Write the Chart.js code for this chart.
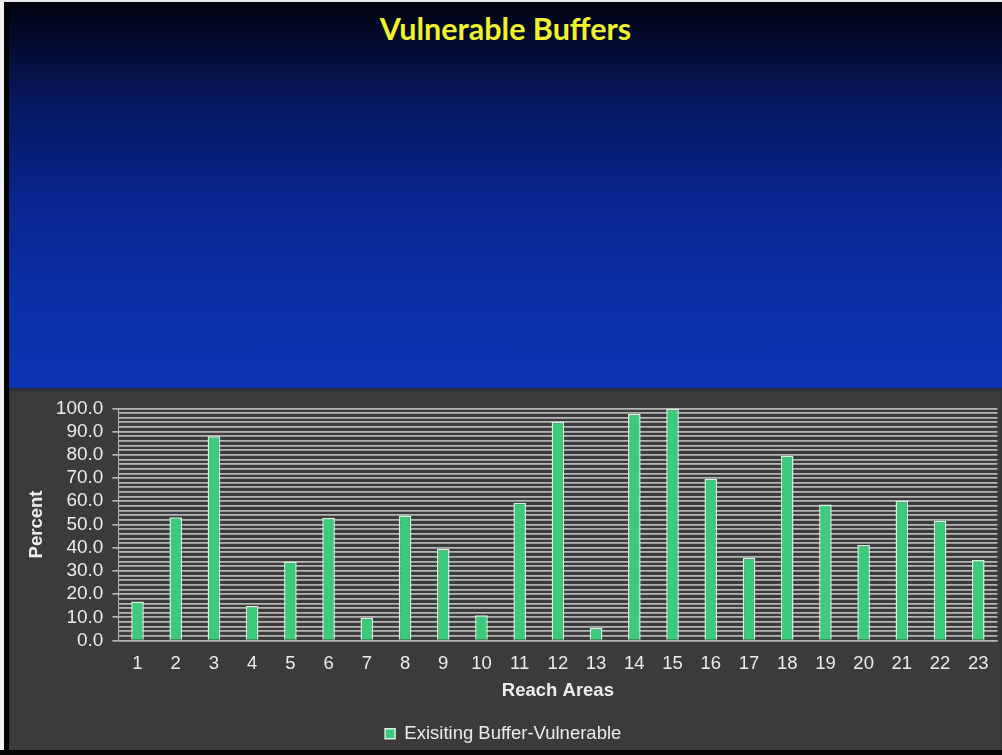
<!DOCTYPE html>
<html>
<head>
<meta charset="utf-8">
<script src="https://cdn.jsdelivr.net/npm/chart.js@4/dist/chart.umd.min.js"></script>
<style>
  html, body { margin: 0; padding: 0; }
  body { width: 1002px; height: 755px; background: #000; position: relative; overflow: hidden; }
  .edge-left { position: absolute; left: 0; top: 0; width: 4px; height: 755px; background: #f2f2f2; }
  .edge-top { position: absolute; left: 0; top: 0; width: 1002px; height: 2px; background: #e8e8e8; }
  .sky {
    position: absolute; left: 9px; top: 2px; width: 993px; height: 386px;
    background: linear-gradient(to bottom, #01030f 0%, #030a2c 9%, #061860 26%, #09248c 50%, #0b2fa6 75%, #0b35b4 100%);
  }
  .sky h1 {
    margin: 0; position: absolute; left: 0; right: 0; top: 8px;
    text-align: center; font: 700 30.5px Lato, "Open Sans", sans-serif;
    color: #f0f22c;
  }
  .panel {
    position: absolute; left: 9px; top: 388px; width: 993px; height: 367px;
    background: #3b3b3b;
    box-shadow: inset 0 3px 3px -1px #2a2636;
  }
  .panel canvas { display: block; }
  .edge-bottom { position: absolute; left: 0; top: 750px; width: 1002px; height: 5px; background: #050505; }
</style>
</head>
<body>
<div class="edge-left"></div>
<div class="edge-top"></div>
<div class="sky"><h1>Vulnerable Buffers</h1></div>
<div class="panel"><canvas id="chart" width="993" height="367"></canvas></div>
<div class="edge-bottom"></div>
<script>
// Reach areas 1..23 and the share of existing buffer that is vulnerable (%)
const reachAreas = ['1','2','3','4','5','6','7','8','9','10','11','12','13','14','15','16','17','18','19','20','21','22','23'];
const vulnerablePercent = [16.8, 53.1, 88.0, 15.0, 33.9, 52.9, 9.8, 53.9, 39.4, 10.9, 59.3, 94.2, 5.4, 97.6, 99.8, 69.6, 35.7, 79.6, 58.6, 41.1, 60.2, 51.6, 34.7];
const seriesName = 'Exisiting Buffer-Vulnerable';
const percentTicks = [0, 10, 20, 30, 40, 50, 60, 70, 80, 90, 100];

const textColor = '#ececec';
const fontFamily = 'Arial, "Liberation Sans", sans-serif';

new Chart(document.getElementById('chart'), {
  type: 'bar',
  data: {
    labels: reachAreas,
    datasets: [{
      label: seriesName,
      data: vulnerablePercent,
      backgroundColor: '#3ccb7a',
      borderColor: '#d6f3df',
      borderWidth: 1.5,
      borderSkipped: 'bottom',
      barPercentage: 0.33,
      categoryPercentage: 1.0
    }]
  },
  options: {
    responsive: false,
    animation: false,
    devicePixelRatio: 1,
    layout: { padding: { left: 0, right: 4.6, top: 17, bottom: 2 } },
    plugins: {
      title: { display: false },
      tooltip: { enabled: false },
      legend: {
        position: 'bottom',
        labels: {
          color: textColor,
          font: { family: fontFamily, size: 18.5 },
          boxWidth: 10,
          boxHeight: 10,
          padding: 20
        }
      }
    },
    scales: {
      x: {
        grid: { display: false, drawTicks: false },
        border: { display: true, color: '#b4b4b4', width: 1 },
        ticks: {
          color: textColor,
          font: { family: fontFamily, size: 18.5 },
          padding: 12,
          maxRotation: 0,
          autoSkip: false
        },
        title: {
          display: true,
          text: 'Reach Areas',
          color: textColor,
          font: { family: fontFamily, size: 18.5, weight: 'bold' },
          padding: { top: 0, bottom: 2 }
        },
        afterFit: (scale) => { scale.height = 64; }
      },
      y: {
        min: 0,
        max: 100,
        grid: {
          color: 'rgba(195,195,195,0.9)',
          lineWidth: 1.7,
          tickLength: 6,
          tickColor: (ctx) => (percentTicks.includes(ctx.tick && ctx.tick.value) ? '#b4b4b4' : 'rgba(0,0,0,0)')
        },
        border: { display: true, color: '#b4b4b4', width: 1 },
        ticks: {
          stepSize: 2,
          autoSkip: false,
          color: textColor,
          font: { family: fontFamily, size: 19 },
          padding: 9,
          callback: (value) => (percentTicks.includes(value) ? value.toFixed(1) : '')
        },
        title: {
          display: true,
          text: 'Percent',
          color: textColor,
          font: { family: fontFamily, size: 18.5, weight: 'bold' },
          padding: { top: 17, bottom: 0 }
        },
        afterFit: (scale) => { scale.width = 109.4; }
      }
    }
  }
});
</script>
</body>
</html>
